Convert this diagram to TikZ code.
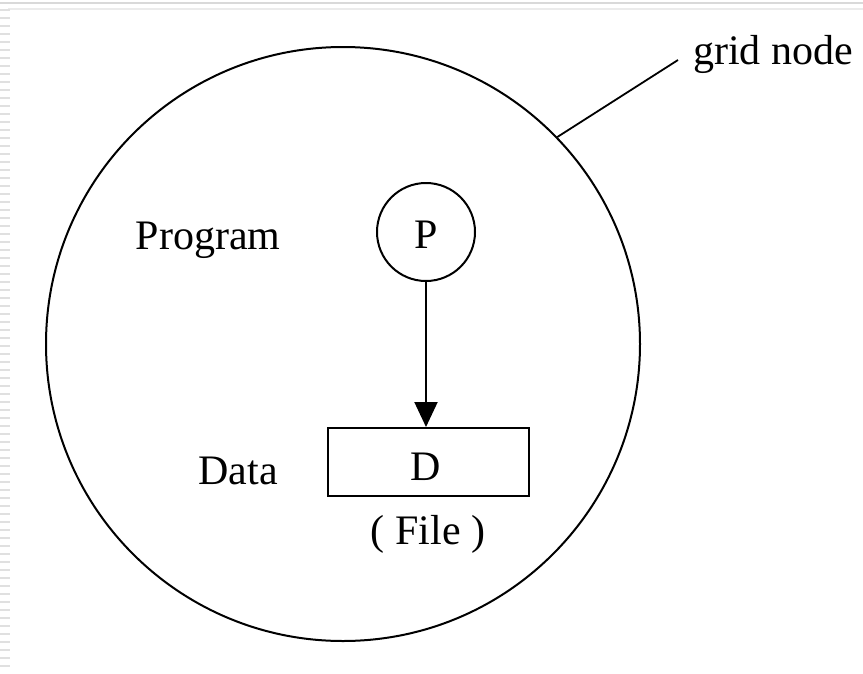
\documentclass[tikz,border=0pt]{standalone}
\usepackage{fontspec}
\setmainfont{Liberation Serif}
\usetikzlibrary{arrows.meta}
\begin{document}
\begin{tikzpicture}[x=1pt,y=-1pt,
  outline/.style={draw=black,line width=2pt},
  lbl/.style={inner sep=0pt,font=\fontsize{42}{50}\selectfont},
  frameline/.style={draw=black!15,line width=2pt}]
\useasboundingbox[fill=white] (0,0) rectangle (863,673);
% faint frame lines along the top and left edge
\draw[frameline] (0,3) -- (863,3);
\draw[frameline,draw=black!8] (8,9) -- (863,9);
\foreach \y in {10,18,...,670} \draw[frameline,draw=black!12] (0,\y) -- (10,\y);
% grid node
\node[outline,circle,minimum size=594pt,inner sep=0pt] (grid) at (343,344) {};
\node[lbl,anchor=west] (gridlbl) at (693,54) {grid node};
\coordinate (leader) at (678,60);
\draw[line width=1.8pt,black] (grid.{44}) -- (leader);
% program and data
\node[outline,circle,minimum size=98pt,inner sep=0pt] (P) at (426,232) {};
\node[lbl] (Ptext) at (426,235) {P};
\node[lbl] (prog) at (208,240) {Program};
\node[outline,rectangle,minimum width=201pt,minimum height=68pt,inner sep=0pt] (D) at (428.5,462) {};
\node[lbl] (Dtext) at (426,467) {D};
\node[lbl] (data) at (238,471) {Data};
\node[lbl] (file) at (428,534) {( File )};
\draw[line width=2pt,black,-{Triangle[length=25pt,width=23pt]}] (P.south) -- (P.south |- D.north);
\end{tikzpicture}
\end{document}
